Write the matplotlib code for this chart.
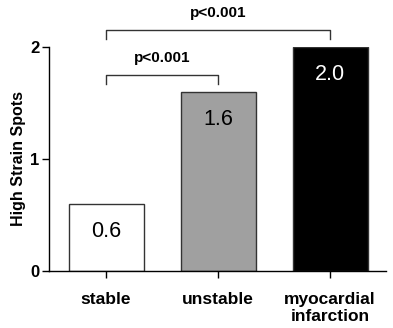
import matplotlib
matplotlib.use('Agg')
import matplotlib.pyplot as plt

plt.rcParams['font.family'] = ['Liberation Sans', 'DejaVu Sans']

groups = ['stable', 'unstable', 'myocardial\ninfarction']
values = [0.6, 1.6, 2.0]
colors = ['white', '#a0a0a0', 'black']
label_colors = ['black', 'black', 'white']
yticks = [0, 1, 2]
# (left group, right group, bracket height, p text)
comparisons = [(0, 1, 1.75, 'p<0.001'), (0, 2, 2.15, 'p<0.001')]

fig = plt.figure(figsize=(3.93, 3.28), dpi=100)
ax = fig.add_axes([49 / 393, 57 / 328, 337 / 393, 224 / 328])

x = list(range(len(groups)))
ax.bar(x, values, width=0.67, color=colors, edgecolor='#333333', linewidth=1)
for xi, v, c in zip(x, values, label_colors):
    ax.text(xi, v - 0.25, f'{v:.1f}', ha='center', va='center',
            fontsize=15.5, color=c)

ax.set_xlim(-0.51, 2.5)
ax.set_ylim(0, 2)
ax.set_yticks(yticks)
ax.set_yticklabels([str(t) for t in yticks], fontweight='bold', fontsize=12)
ax.set_xticks(x)
ax.set_xticklabels(groups, fontweight='bold', fontsize=12.5, linespacing=1.15)
ax.set_ylabel('High Strain Spots', fontweight='bold', fontsize=11.5, labelpad=3)
for s in ['top', 'right']:
    ax.spines[s].set_visible(False)
ax.spines['left'].set_linewidth(1)
ax.spines['bottom'].set_linewidth(1)
ax.tick_params(axis='y', length=5, width=1, pad=2)
ax.tick_params(axis='x', length=5, width=1, pad=10)

for a, b, h, txt in comparisons:
    ax.plot([a, a, b, b], [h - 0.08, h, h, h - 0.08], color='#333333', lw=1, clip_on=False)
    ax.text((a + b) / 2, h + 0.09, txt, ha='center', va='bottom', fontsize=11,
            fontweight='bold')

fig.savefig('out.png', dpi=100)
